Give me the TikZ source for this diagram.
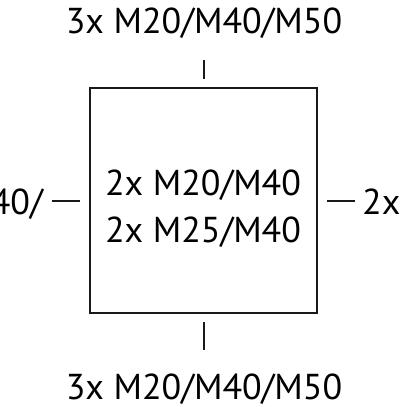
\documentclass[tikz,border=0pt]{standalone}
\usepackage{fontspec}
\setmainfont{PT Sans}
\begin{document}
\begin{tikzpicture}[x=1pt,y=-1pt,
  lbl/.style={font=\fontsize{36}{40}\selectfont, inner sep=0pt, anchor=base},
  ln/.style={line width=1.6pt, draw=black!90}]
\useasboundingbox (0,0) rectangle (407,407);
\node[ln, draw, minimum width=227pt, minimum height=225pt, inner sep=0pt, outer sep=0pt, anchor=north west] (box) at (90,88) {};
\node[lbl] (top) at (204,33) {3x M20/M40/M50};
\node[lbl] (bot) at (204,399) {3x M20/M40/M50};
\node[lbl] (in1) at (203,195) {2x M20/M40};
\node[lbl] (in2) at (203,242) {2x M25/M40};
\node[lbl, anchor=base east] (left) at (43,214) {40/};
\node[lbl, anchor=base west] (right) at (362,214) {2x};
\coordinate (t1) at (204,60); \coordinate (t2) at (204,79);
\coordinate (b1) at (204,322); \coordinate (b2) at (204,350);
\coordinate (l1) at (52,201); \coordinate (l2) at (80,201);
\coordinate (r1) at (327,201); \coordinate (r2) at (355,201);
\draw[ln] (t1) -- (t2);
\draw[ln] (b1) -- (b2);
\draw[ln] (l1) -- (l2);
\draw[ln] (r1) -- (r2);
\end{tikzpicture}
\end{document}
